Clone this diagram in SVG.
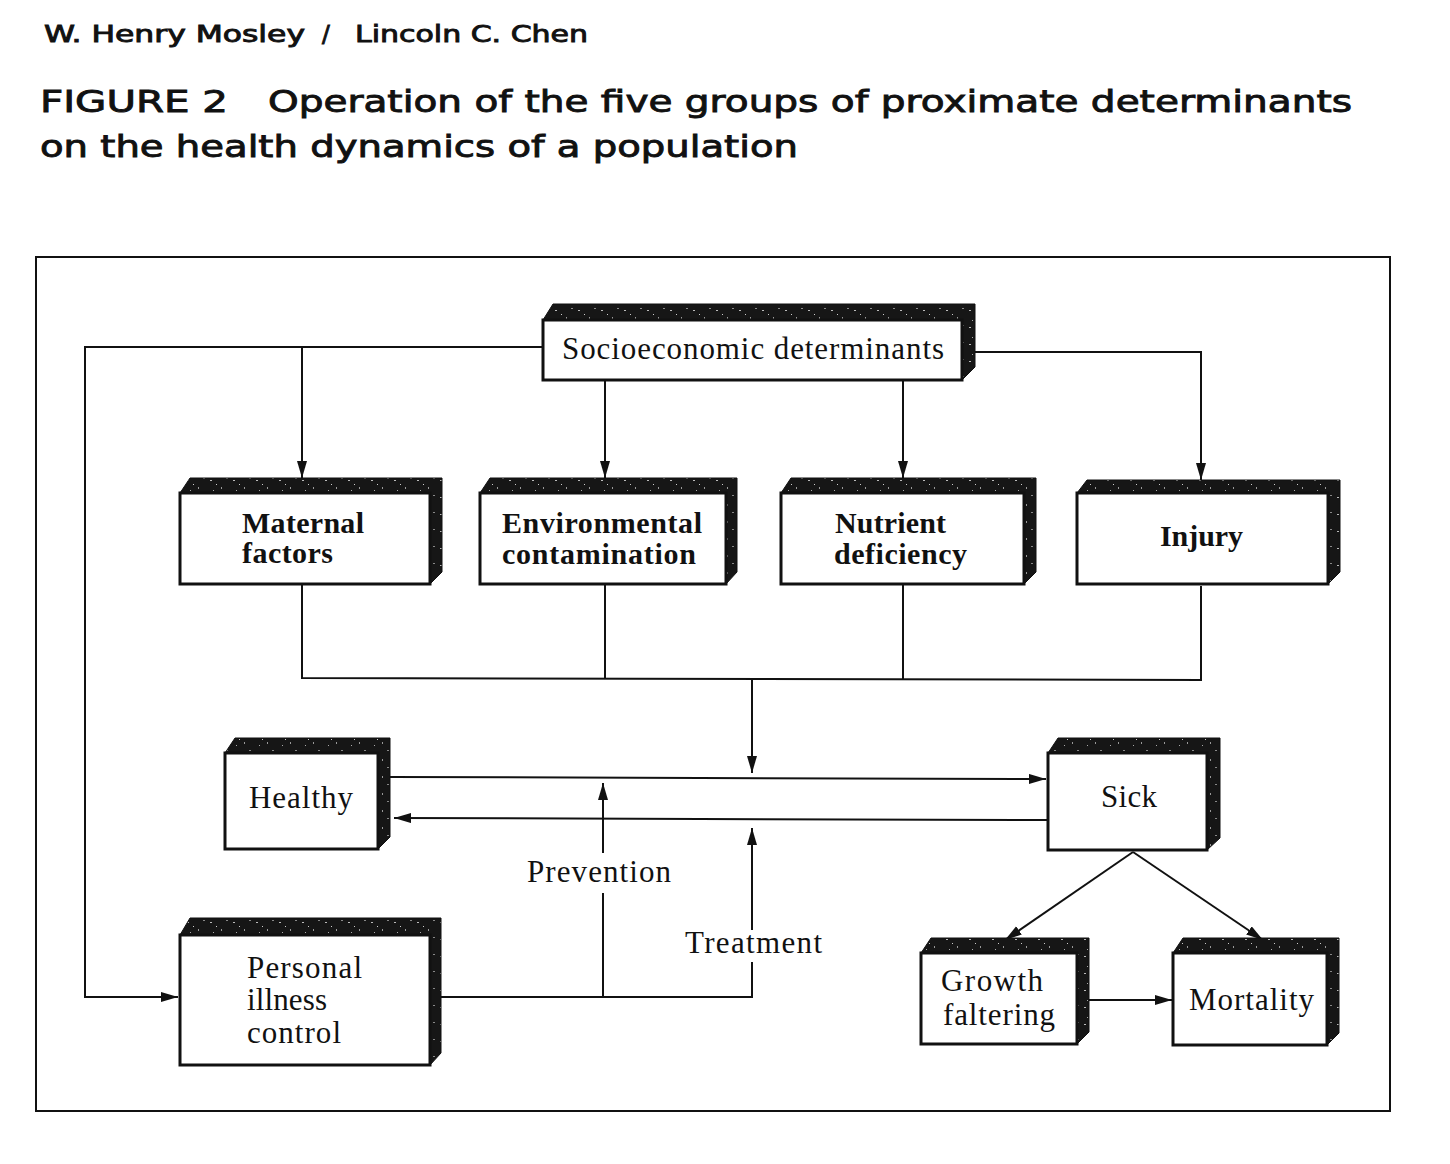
<svg xmlns="http://www.w3.org/2000/svg" width="1450" height="1164" viewBox="0 0 1450 1164">
<style>
.hdr{font-family:"DejaVu Sans","Liberation Sans",sans-serif;fill:#111;stroke:#111;stroke-width:0.9}
.ser{font-family:"Liberation Serif","DejaVu Serif",serif;fill:#111;font-size:31px}
.b{font-weight:bold;font-size:30px}
.face{fill:#fff;stroke:#111;stroke-width:3}
.shd{fill:url(#speck);stroke:#111;stroke-width:1}
.ln{fill:none;stroke:#111;stroke-width:2}
.ar{fill:none;stroke:#111;stroke-width:2;marker-end:url(#ah)}
</style>
<defs>
<marker id="ah" markerUnits="userSpaceOnUse" markerWidth="18" markerHeight="12" refX="17" refY="5" orient="auto">
<path d="M0,0 L17,5 L0,10 z" fill="#111"/>
</marker>
<pattern id="speck" patternUnits="userSpaceOnUse" width="23" height="17">
<rect width="23" height="17" fill="#161616"/>
<rect x="3" y="4" width="2" height="1" fill="#bbb"/>
<rect x="14" y="11" width="1" height="2" fill="#999"/>
<rect x="9" y="8" width="1" height="1" fill="#ccc"/>
<rect x="19" y="2" width="2" height="1" fill="#888"/>
<rect x="6" y="14" width="1" height="1" fill="#aaa"/>
</pattern>
</defs>
<rect width="1450" height="1164" fill="#fff"/>
<text class="hdr" x="44" y="42" font-size="23" textLength="261" lengthAdjust="spacingAndGlyphs">W. Henry Mosley</text>
<text class="hdr" x="322" y="42" font-size="23">/</text>
<text class="hdr" x="355" y="42" font-size="23" textLength="233" lengthAdjust="spacingAndGlyphs">Lincoln C. Chen</text>
<text class="hdr" x="40" y="112" font-size="31" textLength="188" lengthAdjust="spacingAndGlyphs">FIGURE 2</text>
<text class="hdr" x="268" y="112" font-size="31" textLength="1084" lengthAdjust="spacingAndGlyphs">Operation of the five groups of proximate determinants</text>
<text class="hdr" x="40" y="157" font-size="31" textLength="758" lengthAdjust="spacingAndGlyphs">on the health dynamics of a population</text>
<rect x="36" y="257" width="1354" height="854" fill="none" stroke="#111" stroke-width="2"/>

<g id="connectors">
<polyline class="ar" points="543,347 85,347 85,997 178,997"/>
<line class="ar" x1="302" y1="347" x2="302" y2="478"/>
<line class="ar" x1="605" y1="380" x2="605" y2="478"/>
<line class="ar" x1="903" y1="380" x2="903" y2="478"/>
<polyline class="ar" points="975,352 1201,352 1201,480"/>
<polyline class="ln" points="302,584 302,678 1201,680 1201,586"/>
<line class="ln" x1="605" y1="584" x2="605" y2="678"/>
<line class="ln" x1="903" y1="584" x2="903" y2="679"/>
<line class="ar" x1="752" y1="679" x2="752" y2="773"/>
<line class="ar" x1="390" y1="777" x2="1046" y2="779"/>
<line class="ar" x1="1048" y1="820" x2="394" y2="818"/>
<polyline class="ln" points="441,997 752,997 752,962"/>
<line class="ar" x1="752" y1="930" x2="752" y2="828"/>
<line class="ln" x1="603" y1="997" x2="603" y2="893"/>
<line class="ar" x1="603" y1="853" x2="603" y2="783"/>
<line class="ar" x1="1133" y1="852" x2="1005" y2="940"/>
<line class="ar" x1="1133" y1="852" x2="1263" y2="940"/>
<line class="ar" x1="1089" y1="1000" x2="1172" y2="1000"/>
</g>

<g id="socioeconomic">
<polygon class="shd" points="543,320 553,304 975,304 975,367 962,380"/>
<rect class="face" x="543" y="320" width="419" height="60"/>
<text class="ser" x="562" y="359" textLength="382">Socioeconomic determinants</text>
</g>
<g id="maternal">
<polygon class="shd" points="180,493 190,478 442,478 442,572 430,584"/>
<rect class="face" x="180" y="493" width="250" height="91"/>
<text class="ser b" x="242" y="533" textLength="122">Maternal</text>
<text class="ser b" x="242" y="563" textLength="91">factors</text>
</g>
<g id="environmental">
<polygon class="shd" points="480,493 490,478 737,478 737,572 726,584"/>
<rect class="face" x="480" y="493" width="246" height="91"/>
<text class="ser b" x="502" y="533" textLength="200">Environmental</text>
<text class="ser b" x="502" y="564" textLength="194">contamination</text>
</g>
<g id="nutrient">
<polygon class="shd" points="781,493 791,478 1036,478 1036,572 1024,584"/>
<rect class="face" x="781" y="493" width="243" height="91"/>
<text class="ser b" x="835" y="533" textLength="111">Nutrient</text>
<text class="ser b" x="834" y="564" textLength="133">deficiency</text>
</g>
<g id="injury">
<polygon class="shd" points="1077,493 1087,480 1340,480 1340,572 1328,584"/>
<rect class="face" x="1077" y="493" width="251" height="91"/>
<text class="ser b" x="1160" y="546" textLength="83">Injury</text>
</g>
<g id="healthy">
<polygon class="shd" points="225,753 235,738 390,738 390,837 378,849"/>
<rect class="face" x="225" y="753" width="153" height="96"/>
<text class="ser" x="249" y="808" textLength="104">Healthy</text>
</g>
<g id="sick">
<polygon class="shd" points="1048,753 1058,738 1220,738 1220,838 1207,850"/>
<rect class="face" x="1048" y="753" width="159" height="97"/>
<text class="ser" x="1101" y="807" textLength="56">Sick</text>
</g>
<g id="labels">
<text class="ser" x="527" y="882" textLength="144">Prevention</text>
<text class="ser" x="685" y="953" textLength="137">Treatment</text>
</g>
<g id="personal">
<polygon class="shd" points="180,935 190,918 441,918 441,1053 430,1065"/>
<rect class="face" x="180" y="935" width="250" height="130"/>
<text class="ser" x="247" y="978" textLength="115">Personal</text>
<text class="ser" x="247" y="1010" textLength="80">illness</text>
<text class="ser" x="247" y="1043" textLength="94">control</text>
</g>
<g id="growth">
<polygon class="shd" points="921,953 931,938 1089,938 1089,1032 1077,1044"/>
<rect class="face" x="921" y="953" width="156" height="91"/>
<text class="ser" x="941" y="991" textLength="102">Growth</text>
<text class="ser" x="943" y="1025" textLength="112">faltering</text>
</g>
<g id="mortality">
<polygon class="shd" points="1173,953 1183,938 1339,938 1339,1033 1327,1045"/>
<rect class="face" x="1173" y="953" width="154" height="92"/>
<text class="ser" x="1189" y="1010" textLength="125">Mortality</text>
</g>
</svg>
